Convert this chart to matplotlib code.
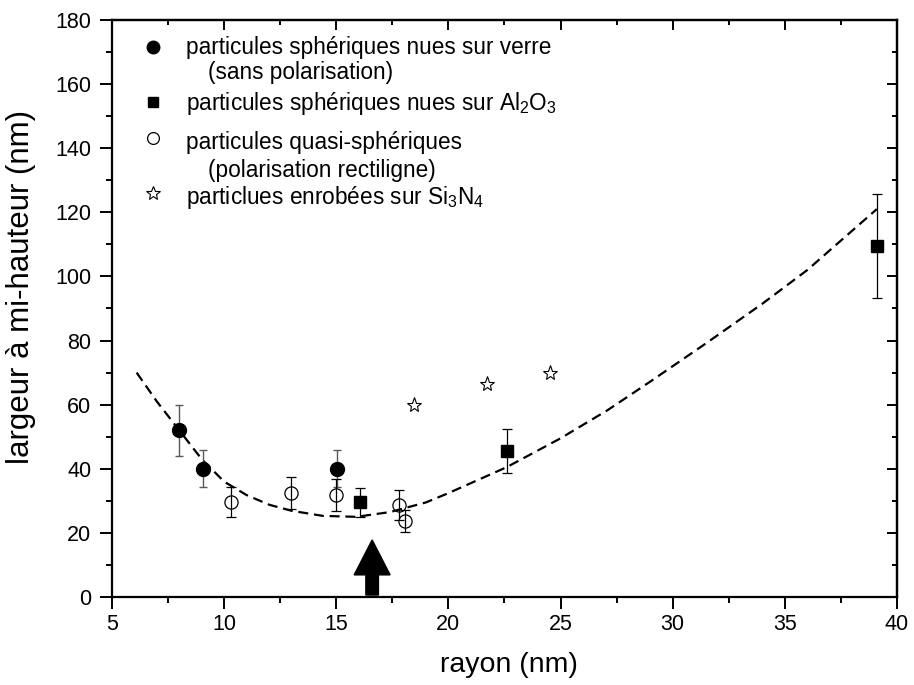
import matplotlib
matplotlib.use("Agg")
import matplotlib.pyplot as plt

plt.rcParams["font.family"] = ["Liberation Sans", "DejaVu Sans"]
plt.rcParams["mathtext.fontset"] = "custom"
plt.rcParams["mathtext.rm"] = "Liberation Sans"
plt.rcParams["mathtext.it"] = "Liberation Sans:italic"

# particules sphériques nues sur verre
verre_x = [8.0, 9.05, 15.05]
verre_y = [52, 40, 40]
verre_err = [8, 5.8, 5.8]

# particules sphériques nues sur Al2O3
alu_x = [16.05, 22.6, 39.1]
alu_y = [29.5, 45.5, 109.5]
alu_err = [4.6, 6.9, 16.3]

# particules quasi-sphériques
quasi_x = [10.3, 13.0, 15.0, 17.8, 18.05]
quasi_y = [29.7, 32.5, 31.7, 28.6, 23.7]
quasi_err = [4.7, 5.0, 5.0, 4.7, 3.5]

# particules enrobées sur Si3N4
si_x = [18.45, 21.7, 24.55]
si_y = [59.8, 66.5, 69.8]

# courbe théorique (pointillés)
curve_x = [6.1, 7.0, 8.0, 9.0, 10.0, 11.0, 12.0, 13.0, 14.4, 15.9, 17.4, 19.0, 20.0,
           22.6, 25.0, 27.1, 29.0, 31.5, 34.0, 36.0, 39.1]
curve_y = [70, 61, 52, 43, 36.0, 31.8, 28.8, 26.9, 25.3, 25.0, 26.5, 29.5, 32.4,
           40.5, 49.5, 58.3, 67.2, 79.2, 91.5, 102, 121]

arrow_x = 16.6

legend_labels = [
    "particules sphériques nues sur verre",
    "(sans polarisation)",
    r"particules sphériques nues sur Al$_2$O$_3$",
    "particules quasi-sphériques",
    "(polarisation rectiligne)",
    r"particlues enrobées sur Si$_3$N$_4$",
]

fig = plt.figure(figsize=(9.14, 6.85), dpi=100)
ax = fig.add_axes([0.1225, 0.1285, 0.8589, 0.8423])

ax.plot(curve_x, curve_y, color="black", lw=1.6, ls=(0, (4.5, 2.6)))

ax.errorbar(verre_x, verre_y, yerr=verre_err, fmt="o", ms=10, color="black",
            ecolor="0.35", elinewidth=1.0, capsize=3, capthick=1.0, zorder=3)
ax.errorbar(alu_x, alu_y, yerr=alu_err, fmt="s", ms=8, color="black",
            ecolor="black", elinewidth=0.9, capsize=3.5, capthick=0.9, zorder=3)
ax.errorbar(quasi_x, quasi_y, yerr=quasi_err, fmt="o", ms=9.5, mfc="none",
            mec="black", mew=0.9, ecolor="black", elinewidth=0.9, capsize=3.5,
            capthick=0.9, zorder=3)
ax.plot(si_x, si_y, ls="none", marker="*", ms=11, mfc="none", mec="black",
        mew=0.8, zorder=3)

ax.arrow(arrow_x, 0.6, 0, 17.2, width=0.56, head_width=1.6, head_length=10.9,
         length_includes_head=True, color="black", zorder=4)

ax.set_xlim(5, 40)
ax.set_ylim(0, 180)
ax.set_xticks(range(5, 41, 5))
ax.set_xticks([x + 2.5 for x in range(5, 40, 5)], minor=True)
ax.set_yticks(range(0, 181, 20))
ax.set_yticks(range(10, 180, 20), minor=True)

for s in ax.spines.values():
    s.set_linewidth(1.6)

ax.tick_params(which="major", direction="out", length=8.5, width=1.4,
               labelsize=15.5, pad=6.5)
ax.tick_params(axis="x", which="major", pad=3.5)
ax.tick_params(which="minor", direction="out", length=4.5, width=1.4)

top = ax.secondary_xaxis("top")
top.set_xticks(range(5, 41, 5))
top.set_xticks([x + 2.5 for x in range(5, 40, 5)], minor=True)
top.tick_params(which="major", direction="in", length=7, width=1.4, labeltop=False)
top.tick_params(which="minor", direction="in", length=3.5, width=1.4)
top.spines["top"].set_linewidth(1.6)

right = ax.secondary_yaxis("right")
right.set_yticks(range(0, 181, 20))
right.set_yticks(range(10, 180, 20), minor=True)
right.tick_params(which="major", direction="in", length=7, width=1.4, labelright=False)
right.tick_params(which="minor", direction="in", length=3.5, width=1.4)
right.spines["right"].set_linewidth(1.6)

fig.text(509 / 914, 1 - 665 / 685, "rayon (nm)", fontsize=20.5, ha="center", va="center")
fig.text(21 / 914, 1 - 287 / 685, "largeur à mi-hauteur (nm)", fontsize=22.5,
         rotation=90, ha="center", va="center")

# légende manuelle
mx, tx, tx2 = 0.0522, 0.0943, 0.1223
ax.plot([mx], [0.9537], "o", ms=9, color="black", transform=ax.transAxes, clip_on=False)
ax.plot([mx], [0.8579], "s", ms=7.5, color="black", transform=ax.transAxes, clip_on=False)
ax.plot([mx], [0.7955], "o", ms=8.5, mfc="none", mec="black", mew=0.9,
        transform=ax.transAxes, clip_on=False)
ax.plot([mx], [0.7002], "*", ms=10, mfc="none", mec="black", mew=0.8,
        transform=ax.transAxes, clip_on=False)
ypos = [0.9520, 0.9090, 0.8560, 0.7880, 0.7400, 0.6930]
xpos = [tx, tx2, tx, tx, tx2, tx]
for lab, xx, yy in zip(legend_labels, xpos, ypos):
    ax.text(xx, yy, lab, fontsize=16.3, transform=ax.transAxes, va="center", ha="left")

fig.savefig("out.png", dpi=100)
